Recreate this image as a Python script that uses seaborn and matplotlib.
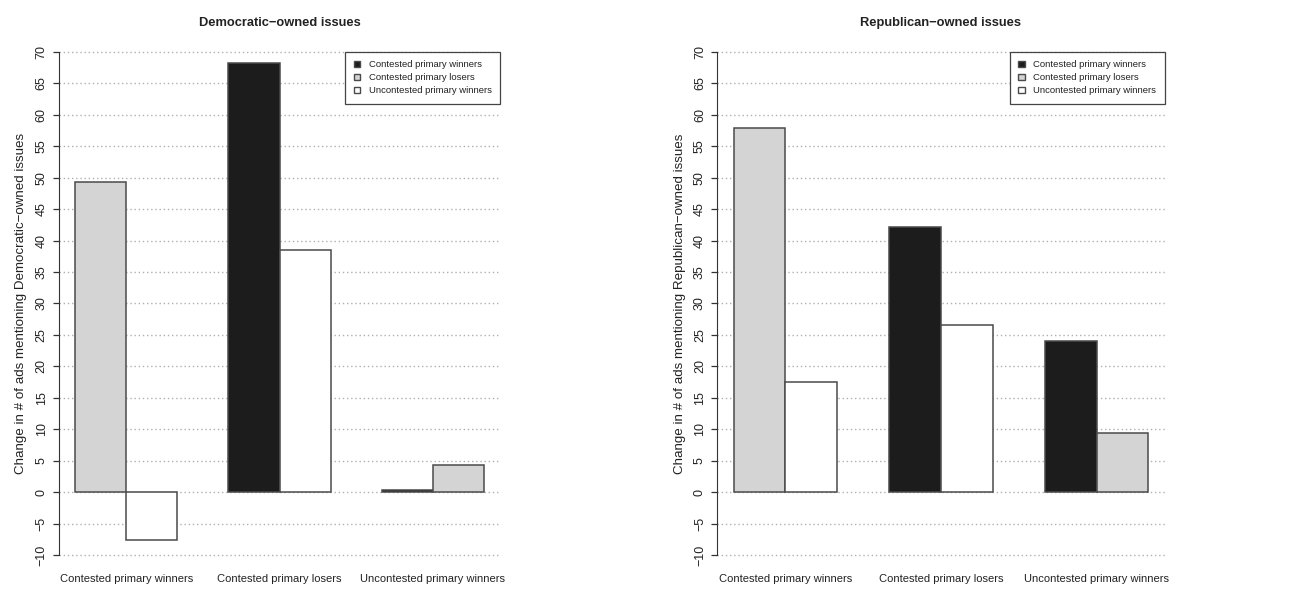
import numpy as np
import pandas as pd
import matplotlib
matplotlib.use("Agg")
import matplotlib.pyplot as plt
import seaborn as sns
from matplotlib.patches import Patch

groups = ["Contested primary winners", "Contested primary losers", "Uncontested primary winners"]
group_colors = ["#1c1c1c", "#d4d4d4", "#ffffff"]

# each group is compared with the other two groups (in legend order)
dem_first = [49.3, 68.3, 0.3]
dem_second = [-7.6, 38.5, 4.3]
rep_first = [57.9, 42.2, 24.1]
rep_second = [17.5, 26.6, 9.4]

titles = ["Democratic\u2212owned issues", "Republican\u2212owned issues"]
ylabels = ["Change in # of ads mentioning Democratic\u2212owned issues",
           "Change in # of ads mentioning Republican\u2212owned issues"]
yticks = list(range(-10, 75, 5))


def build_frame(first, second):
    rows = []
    for i, g in enumerate(groups):
        others = [c for c in groups if c != g]
        for j, (other, val) in enumerate(zip(others, [first[i], second[i]])):
            # R style barplot layout: bars 1 unit wide, 1 unit gap between groups
            rows.append({"group": g, "compared": other, "value": val, "pos": 3 * i + 1.5 + j})
    return pd.DataFrame(rows)


sns.set_style("white")
plt.rcParams["font.family"] = ["Liberation Sans", "DejaVu Sans"]
plt.rcParams["axes.unicode_minus"] = True

fig = plt.figure(figsize=(12.94, 5.9), dpi=100)
ylo, yhi = -11, 71
ax_boxes = [[0.0455, 0.0486, 0.3410, 0.874], [0.5541, 0.0486, 0.3462, 0.874]]
palette = dict(zip(groups, group_colors))
edge = "#4a4a4a"
text_col = "#222222"

for k, (first, second) in enumerate([(dem_first, dem_second), (rep_first, rep_second)]):
    ax = fig.add_axes(ax_boxes[k])
    df = build_frame(first, second)
    sns.barplot(data=df, x="pos", y="value", hue="compared", hue_order=groups,
                palette=palette, native_scale=True, dodge=False, width=1,
                edgecolor=edge, linewidth=1.1, errorbar=None, legend=False, ax=ax)

    ax.set_xlim(0.68, 9.32)
    ax.set_ylim(ylo, yhi)
    ax.set_yticks(yticks)
    ax.set_axisbelow(True)
    ax.yaxis.grid(True, linestyle=(0, (1, 2)), color="#b0b0b0", linewidth=1.0)
    ax.xaxis.grid(False)

    for s in ["top", "right", "bottom"]:
        ax.spines[s].set_visible(False)
    ax.spines["left"].set_bounds(-10, 70)
    ax.spines["left"].set_color("#333333")

    ax.set_xticks([2, 5, 8])
    ax.set_xticklabels(groups, fontsize=8.0, color=text_col)
    ax.tick_params(axis="x", length=0, pad=9)
    ax.tick_params(axis="y", length=4, width=0.9, color="#333333", pad=4,
                   labelsize=9, labelcolor=text_col, left=True)
    for lab in ax.get_yticklabels():
        lab.set_rotation(90)
        lab.set_va("center")

    ax.set_xlabel("")
    ax.set_ylabel(ylabels[k], fontsize=9.6, color=text_col, labelpad=6)
    ax.set_title(titles[k], fontsize=9.3, fontweight="bold", color=text_col, pad=14)

    handles = [Patch(facecolor=c, edgecolor=edge, label=g) for g, c in zip(groups, group_colors)]
    leg = ax.legend(handles=handles, loc="upper right",
                    bbox_to_anchor=(1.0, (70 - ylo) / (yhi - ylo)),
                    frameon=True, fancybox=False, framealpha=1, edgecolor="#444444",
                    fontsize=6.8, handlelength=0.7, handleheight=0.7, handletextpad=0.9,
                    labelspacing=0.42, borderaxespad=0, borderpad=0.9)
    leg.get_frame().set_linewidth(0.9)
    for t in leg.get_texts():
        t.set_color(text_col)

fig.savefig("out.png", dpi=100)
